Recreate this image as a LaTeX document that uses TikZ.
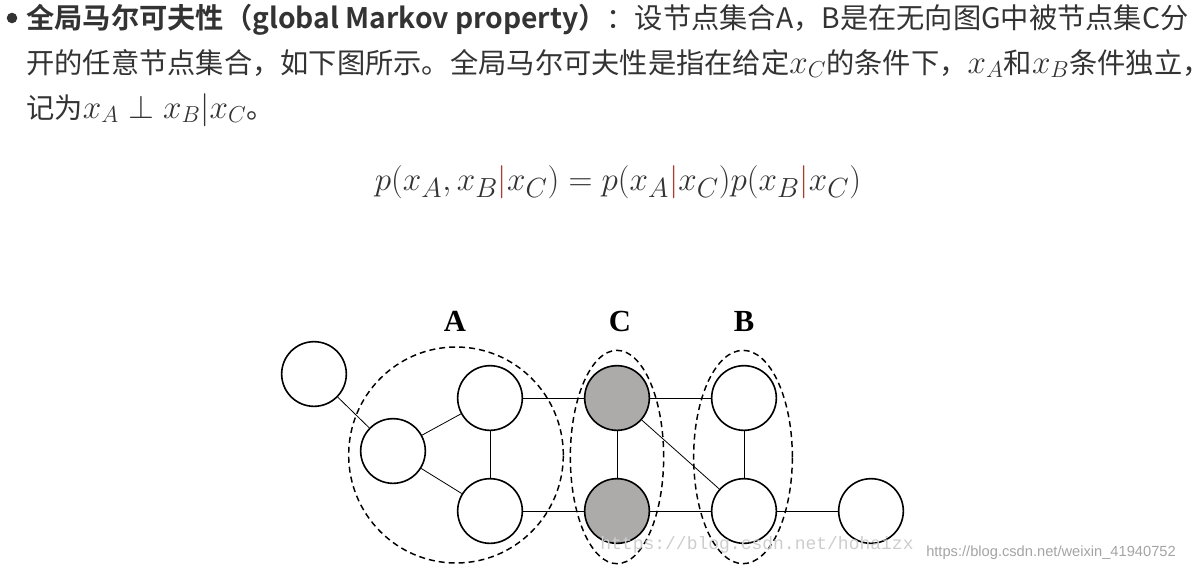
\documentclass[tikz,border=0pt]{standalone}
\usepackage{fontspec}
\setmainfont{Liberation Serif}
\newfontfamily\cjk{Noto Sans CJK SC}
\newfontfamily\cjkb{Noto Sans CJK SC Bold}
\newfontfamily\wmsans{Liberation Sans}
\newfontfamily\wmmono{Liberation Mono}
\usepackage{amsmath}
\newcommand\bm[1]{{\fontsize{24}{24}\selectfont$#1$}}
\begin{document}
\begin{tikzpicture}[x=0.75pt,y=-0.75pt,
  vtx/.style={draw,line width=1.2pt,circle,minimum size=48.5pt,inner sep=0pt},
  gvtx/.style={vtx,fill=shade},
  grp/.style={draw,dash pattern=on 4.5pt off 3pt,line width=1.1pt},
  edge/.style={line width=0.6pt},
  lbl/.style={font=\fontsize{23}{23}\selectfont\bfseries},
  txt/.style={anchor=base west,inner sep=0pt,text=txtc,font=\fontsize{21.2}{22}\selectfont\cjk}]
\definecolor{shade}{RGB}{173,170,170}
\definecolor{txtc}{RGB}{51,51,51}
\definecolor{barc}{RGB}{170,60,50}
\definecolor{wm}{RGB}{205,205,205}
\useasboundingbox (0,0) rectangle (1197,572);
% text
\node[circle,fill=txtc,inner sep=2.8pt] (bul) at (12,18) {};
\node[txt] (l1) at (26,28) {{\cjkb 全局马尔可夫性（global Markov property）}：设节点集合A，B是在无向图G中被节点集C分};
\node[txt] (l2) at (26,73) {开的任意节点集合，如下图所示。全局马尔可夫性是指在给定\bm{x_C}的条件下，\bm{x_A}和\bm{x_B}条件独立，};
\node[txt] (l3) at (26,118) {记为\bm{x_A\perp x_B|x_C}。};
\node[text=txtc,font=\fontsize{28.5}{30}\selectfont] (eq) at (618,182)
 {$p(x_A,x_B\textcolor{barc}{|}x_C)=p(x_A\textcolor{barc}{|}x_C)p(x_B\textcolor{barc}{|}x_C)$};
% groups
\draw[grp] (456,455) ellipse [x radius=80.5pt, y radius=81pt];
\draw[grp] (617,457) ellipse [x radius=35pt, y radius=80pt];
\draw[grp] (743,457) ellipse [x radius=37pt, y radius=80pt];
\node[lbl] (la) at (455,321) {A};
\node[lbl] (lc) at (620,321) {C};
\node[lbl] (lb) at (744,321) {B};
% vertices
\node[vtx] (n1) at (314,374) {};
\node[vtx] (al) at (393,451) {};
\node[vtx] (at) at (490,398) {};
\node[vtx] (ab) at (490,511) {};
\node[gvtx] (ct) at (617,398) {};
\node[gvtx] (cb) at (617,511) {};
\node[vtx] (bt) at (744,398) {};
\node[vtx] (bb) at (744,511) {};
\node[vtx] (r) at (871,511) {};
\foreach \a/\b in {n1/al,al/at,al/ab,at/ab,at/ct,ab/cb,ct/cb,ct/bt,ct/bb,bt/bb,cb/bb,bb/r}
  \draw[edge] (\a) -- (\b);
% watermarks
\node[text=wm,font=\fontsize{13.5}{14}\selectfont\wmmono] (w1) at (757,545) {https://blog.csdn.net/hohaizx};
\node[text=wm!80!black,font=\fontsize{11}{12}\selectfont\wmsans] (w2) at (1051,553) {https://blog.csdn.net/weixin\_41940752};
\end{tikzpicture}
\end{document}
